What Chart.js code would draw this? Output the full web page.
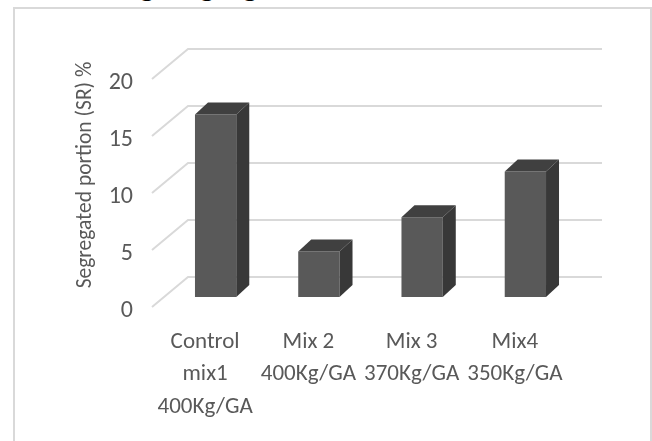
<!DOCTYPE html>
<html>
<head>
<meta charset="utf-8">
<script src="https://cdn.jsdelivr.net/npm/chart.js@4.4.0/dist/chart.umd.min.js"></script>
<style>
  html, body { margin: 0; padding: 0; background: #fff; overflow: hidden; }
  #wrap { position: relative; width: 652px; height: 441px; overflow: hidden; }
  #frame { position: absolute; left: 13px; top: 7px; width: 639px; height: 500px;
           border: 2px solid #d9d9d9; box-sizing: border-box; }
  #caption span { position: absolute; top: -28px; font: 28px "Liberation Serif", serif; line-height: 1; color: #000; }
  #chart { position: absolute; left: 0; top: 0; }
</style>
</head>
<body>
<div id="wrap">
  <div id="frame"></div>
  <div id="caption"><span style="left:140px">g,</span><span style="left:200px">g</span><span style="left:243px">g</span></div>
  <canvas id="chart" width="652" height="441"></canvas>
</div>
<script>
// data
const categories = [
    ['Control', 'mix1', '400Kg/GA'],
    ['Mix 2', '400Kg/GA'],
    ['Mix 3', '370Kg/GA'],
    ['Mix4', '350Kg/GA']
];
const segregatedPortion = [16, 4, 7, 11];
const yTicks = [0, 5, 10, 15, 20];
const yTitle = 'Segregated portion (SR) %';

const FONT = "Carlito, 'Liberation Sans Narrow', Lato, sans-serif";

// fake 3D: back wall grid and bar side/top faces
const wall3d = {
    id: 'wall3d',
    beforeDatasetsDraw(chart) {
        const { ctx, chartArea, scales: { y } } = chart;
        ctx.save();
        ctx.strokeStyle = '#d9d9d9';
        ctx.lineWidth = 2;
        y.ticks.forEach(t => {
            const py = y.getPixelForValue(t.value);
            ctx.beginPath();
            ctx.moveTo(chartArea.left - 12, py + 10);
            ctx.lineTo(chartArea.left + 24, py - 20);
            ctx.lineTo(chartArea.right + 25, py - 20);
            ctx.stroke();
        });
        ctx.restore();
    },
    afterDatasetsDraw(chart) {
        const { ctx } = chart;
        const dx = 13, dy = -12;
        ctx.save();
        chart.getDatasetMeta(0).data.forEach(bar => {
            const { x, y, base, width } = bar.getProps(['x', 'y', 'base', 'width'], true);
            const l = x - width / 2, r = x + width / 2;
            ctx.fillStyle = '#404040';
            ctx.beginPath();
            ctx.moveTo(l, y);
            ctx.lineTo(l + dx, y + dy);
            ctx.lineTo(r + dx, y + dy);
            ctx.lineTo(r, y);
            ctx.closePath();
            ctx.fill();
            ctx.fillStyle = '#383838';
            ctx.beginPath();
            ctx.moveTo(r, y);
            ctx.lineTo(r + dx, y + dy);
            ctx.lineTo(r + dx, base + dy);
            ctx.lineTo(r, base);
            ctx.closePath();
            ctx.fill();
        });
        ctx.restore();
    },
    // axis title sits a bit above the middle of the wall, so draw it here
    afterDraw(chart) {
        const { ctx, chartArea } = chart;
        ctx.save();
        ctx.translate(chartArea.left - 78, (chartArea.top + chartArea.bottom) / 2 - 8);
        ctx.rotate(-Math.PI / 2);
        ctx.font = `21.5px ${FONT}`;
        ctx.fillStyle = '#595959';
        ctx.textAlign = 'center';
        ctx.textBaseline = 'middle';
        ctx.fillText(yTitle, 0, 0);
        ctx.restore();
    }
};

new Chart(document.getElementById('chart'), {
    type: 'bar',
    data: {
        labels: categories,
        datasets: [{
            data: segregatedPortion,
            backgroundColor: '#595959',
            categoryPercentage: 1,
            barPercentage: 0.4
        }]
    },
    options: {
        responsive: false,
        animation: false,
        layout: { padding: { left: 14, top: 69, right: 75, bottom: 0 } },
        plugins: { legend: { display: false }, tooltip: { enabled: false } },
        scales: {
            x: {
                grid: { display: false, drawTicks: false },
                border: { display: false },
                afterFit(scale) { scale.height = 144; },
                ticks: {
                    autoSkip: false, maxRotation: 0, padding: 29, labelOffset: -10.5,
                    color: '#595959', font: { family: FONT, size: 23, lineHeight: 1.41 }
                }
            },
            y: {
                min: yTicks[0],
                max: yTicks[yTicks.length - 1],
                afterFit(scale) { scale.width = 150; },
                grid: { display: false, drawTicks: false },
                border: { display: false },
                ticks: {
                    stepSize: yTicks[1] - yTicks[0], padding: 31, labelOffset: 14,
                    color: '#595959', font: { family: FONT, size: 24 }
                }
            }
        }
    },
    plugins: [wall3d]
});
</script>
</body>
</html>
